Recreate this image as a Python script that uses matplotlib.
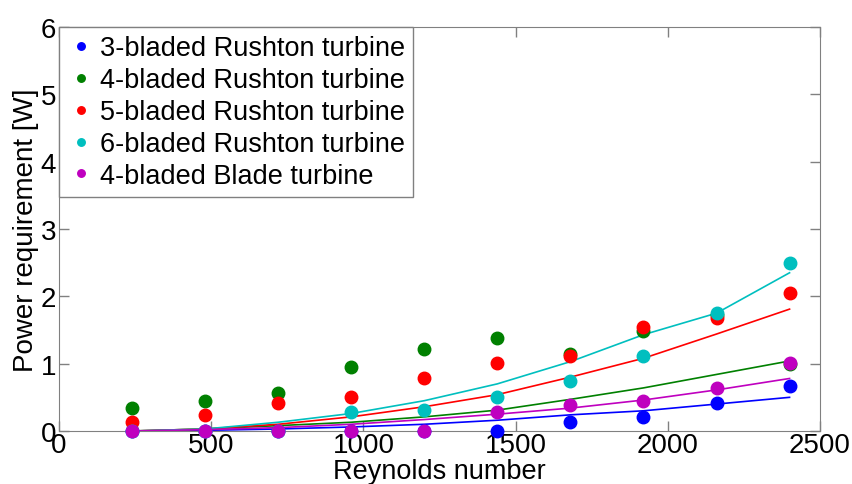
import matplotlib.pyplot as plt

plt.rcParams['font.family'] = ['Liberation Sans', 'DejaVu Sans']

# Reynolds numbers
re = [240, 480, 720, 960, 1200, 1440, 1680, 1920, 2160, 2400]

# measured power [W]
p_rt3 = [0.0, 0.0, 0.0, 0.0, 0.0, 0.0, 0.14, 0.21, 0.41, 0.67]
p_rt4 = [0.34, 0.45, 0.57, 0.95, 1.22, 1.38, 1.15, 1.48, 1.72, 1.0]
p_rt5 = [0.14, 0.24, 0.41, 0.51, 0.78, 1.01, 1.11, 1.55, 1.68, 2.05]
p_rt6 = [0.0, 0.0, 0.0, 0.28, 0.31, 0.51, 0.74, 1.12, 1.75, 2.49]
p_bt4 = [0.0, 0.0, 0.0, 0.0, 0.0, 0.28, 0.38, 0.45, 0.64, 1.01]

# fitted curves
f_rt3 = [0.0, 0.01, 0.03, 0.06, 0.10, 0.16, 0.24, 0.30, 0.40, 0.50]
f_rt4 = [0.0, 0.03, 0.08, 0.13, 0.21, 0.31, 0.47, 0.64, 0.84, 1.04]
f_rt5 = [0.0, 0.03, 0.10, 0.21, 0.36, 0.54, 0.80, 1.08, 1.44, 1.81]
f_rt6 = [0.0, 0.03, 0.13, 0.26, 0.45, 0.70, 1.03, 1.43, 1.75, 2.35]
f_bt4 = [0.0, 0.02, 0.05, 0.10, 0.17, 0.25, 0.34, 0.46, 0.61, 0.78]

labels = ['3-bladed Rushton turbine', '4-bladed Rushton turbine',
          '5-bladed Rushton turbine', '6-bladed Rushton turbine',
          '4-bladed Blade turbine']
colors = ['#0000ff', '#008000', '#ff0000', '#00bfbf', '#bf00bf']
pts = [p_rt3, p_rt4, p_rt5, p_rt6, p_bt4]
fits = [f_rt3, f_rt4, f_rt5, f_rt6, f_bt4]

fig = plt.figure(figsize=(8.53, 4.85), dpi=100)
ax = fig.add_axes([59/853, 53/485, 761/853, 404/485])

for y, c, lab in zip(pts, colors, labels):
    ax.plot(re, y, 'o', color=c, markersize=9, label=lab, clip_on=False, zorder=3)
for y, c in zip(fits, colors):
    ax.plot(re, y, '-', color=c, linewidth=1.2)

ax.set_xlim(0, 2500)
ax.set_ylim(0, 6)
ax.set_xticks([0, 500, 1000, 1500, 2000, 2500])
ax.set_yticks([0, 1, 2, 3, 4, 5, 6])
ax.tick_params(direction='in', length=7, width=1, color='#808080',
               top=True, right=True, labelsize=20, pad=2)
ax.tick_params(axis='x', pad=1)
for s in ax.spines.values():
    s.set_color('#808080')

ax.set_xlabel('Reynolds number', fontsize=19.5, labelpad=0)
ax.set_ylabel('Power requirement [W]', fontsize=20, labelpad=1)

leg = ax.legend(loc='upper left', fontsize=19.5, markerscale=0.6,
                handletextpad=0.2, handlelength=1.0, borderaxespad=0,
                borderpad=0.3, labelspacing=0.22, fancybox=False, framealpha=1)
leg.get_frame().set_edgecolor('#808080')

fig.savefig('out.png', dpi=100)
